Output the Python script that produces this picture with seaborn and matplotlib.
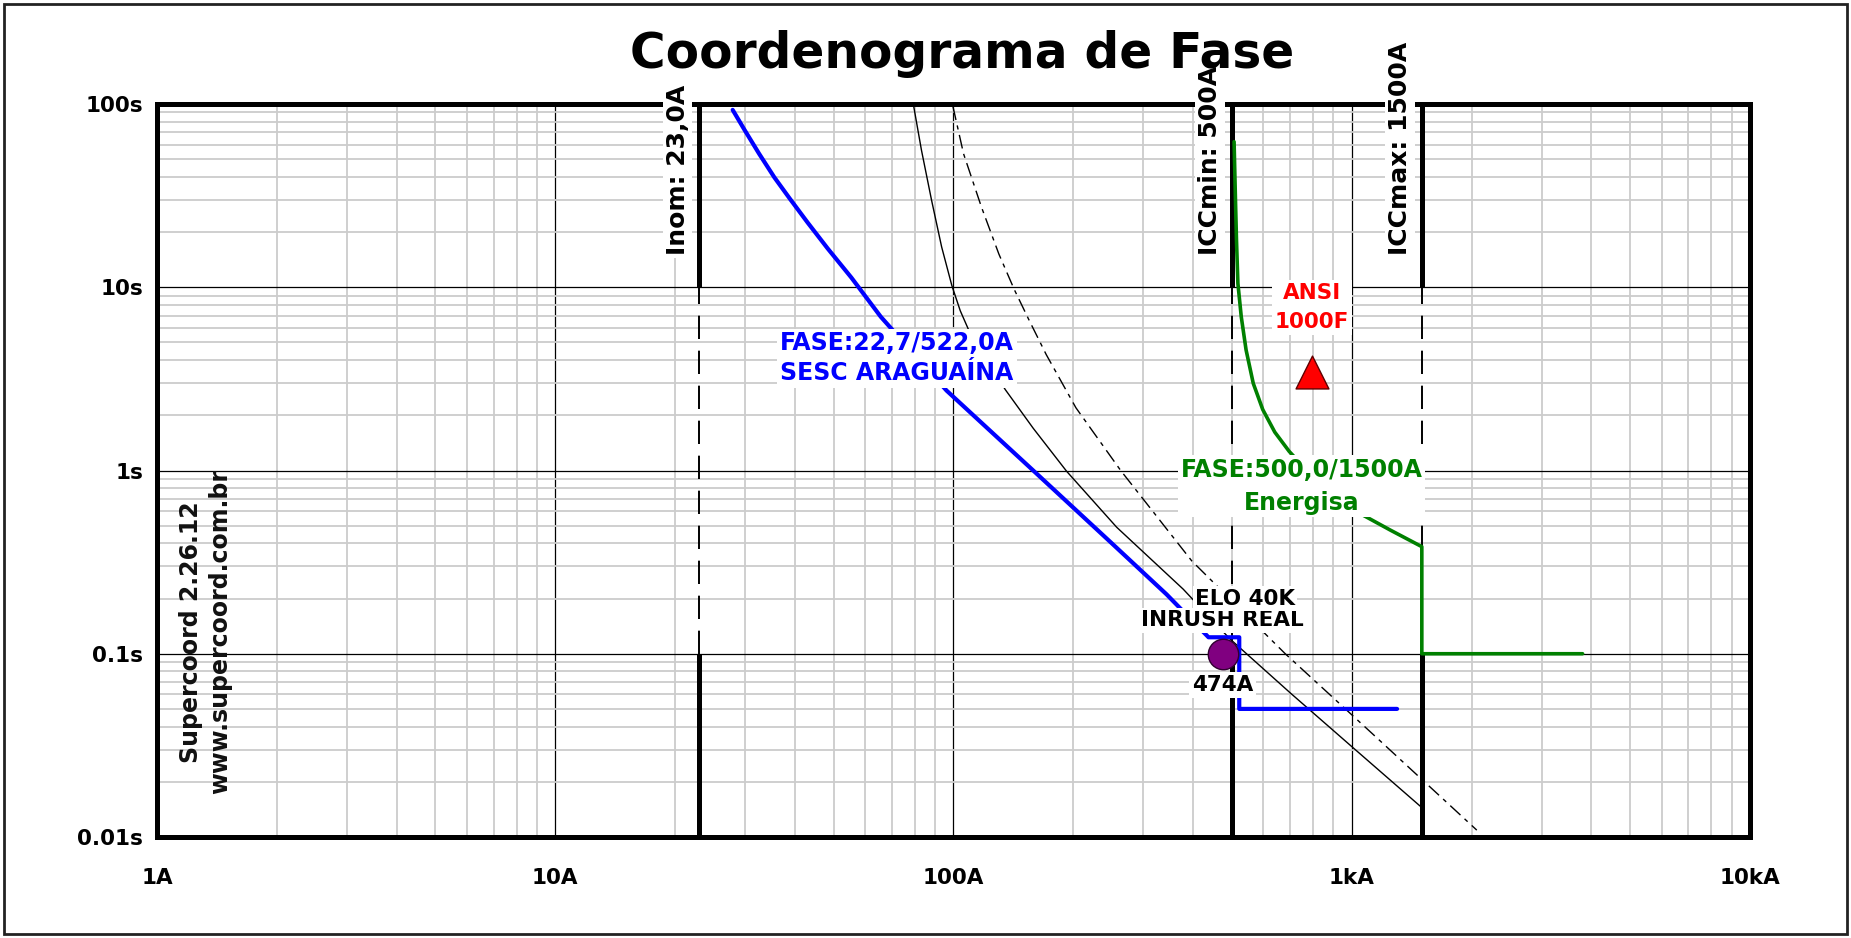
import pandas as pd
import matplotlib
matplotlib.use('Agg')
import matplotlib.pyplot as plt
import seaborn as sns
from matplotlib.ticker import FixedLocator, LogLocator, NullFormatter
from matplotlib.patches import Rectangle

# curva de fase SESC (azul)
sesc_i = [27.9, 29.9, 32.5, 35.5, 38.8, 43.0, 48.3, 55.4, 65.7, 96.1, 158.6, 250, 342.8, 437, 522, 522, 1300]
sesc_t = [92.9, 72.1, 53.6, 39.8, 30.5, 22.6, 16.3, 11.3, 6.9, 2.73, 1.0, 0.40, 0.211, 0.123, 0.123, 0.05, 0.05]

# elo 40K - curva continua e traco-ponto
elo_i = [79.5, 83.1, 88.1, 93.4, 99.1, 104, 109, 114.3, 135, 158.6, 192.4, 257, 377.6, 493.6, 703, 1001, 1493]
elo_t = [96.7, 56.1, 29.9, 16.6, 10.2, 7.45, 5.9, 4.88, 2.76, 1.70, 0.99, 0.49, 0.225, 0.121, 0.0608, 0.0311, 0.0146]
elo2_i = [99.7, 106, 117.5, 130, 142.2, 154.4, 171, 203, 263, 396.7, 681, 1121, 2061]
elo2_t = [97, 53.6, 27.5, 15.2, 9.7, 6.7, 4.29, 2.2, 1.0, 0.321, 0.1, 0.037, 0.0109]

# Energisa (verde)
ener_i = [506.6, 510.7, 513.7, 517.9, 528.1, 543, 566, 598, 641, 697, 850, 1047, 1250, 1500, 1500, 3800]
ener_t = [62.3, 29.9, 18.1, 10.5, 6.9, 4.55, 2.99, 2.15, 1.62, 1.27, 0.8, 0.584, 0.473, 0.384, 0.1, 0.1]

# pontos
ansi_i, ansi_t = [793], [3.46]
inrush_i, inrush_t = [474], [0.1]

limits_i = [23.0, 500, 1500]
limits_names = ['Inom: 23,0A', 'ICCmin: 500A', 'ICCmax: 1500A']

x_ticks = [1, 10, 100, 1000, 10000]
x_labels = ['1A', '10A', '100A', '1kA', '10kA']
y_ticks = [0.01, 0.1, 1, 10, 100]
y_labels = ['0.01s', '0.1s', '1s', '10s', '100s']

sns.set_style('white')
plt.rcParams['font.family'] = ['DejaVu Sans']
plt.rcParams['text.color'] = 'black'
plt.rcParams['xtick.color'] = 'black'
plt.rcParams['ytick.color'] = 'black'

fig = plt.figure(figsize=(18.51, 9.38), dpi=100)
ax = fig.add_axes([0.0848, 0.1077, 0.8606, 0.7814])
ax.set_xscale('log')
ax.set_yscale('log')
ax.set_xlim(1, 10000)
ax.set_ylim(0.01, 100)

ax.xaxis.set_major_locator(FixedLocator(x_ticks))
ax.set_xticklabels(x_labels, fontsize=15.5, fontweight='bold')
ax.yaxis.set_major_locator(FixedLocator(y_ticks))
ax.set_yticklabels(y_labels, fontsize=15.5, fontweight='bold')
ax.xaxis.set_minor_locator(LogLocator(base=10, subs=range(2, 10), numticks=20))
ax.yaxis.set_minor_locator(LogLocator(base=10, subs=range(2, 10), numticks=20))
ax.xaxis.set_minor_formatter(NullFormatter())
ax.yaxis.set_minor_formatter(NullFormatter())
ax.tick_params(axis='x', which='both', length=0, pad=22)
ax.tick_params(axis='y', which='both', length=0, pad=10)

ax.set_axisbelow(True)
ax.grid(which='minor', color='#cccccc', lw=1.3)
ax.grid(which='major', color='black', lw=0.9)
for sp in ax.spines.values():
    sp.set_linewidth(3.6)
    sp.set_color('black')

# linhas verticais Inom / ICC
for xv in limits_i:
    ax.plot([xv, xv], [10, 100], color='black', lw=3.6, solid_capstyle='butt', zorder=3)
    ax.plot([xv, xv], [0.1, 10], color='black', lw=1.4, ls=(0, (12, 6)), zorder=3)
    ax.plot([xv, xv], [0.01, 0.1], color='black', lw=3.6, solid_capstyle='butt', zorder=3)

for xv, name in zip(limits_i, limits_names):
    ax.annotate(name, xy=(xv, 15.0), xytext=(-7, 0), textcoords='offset points',
                rotation=90, ha='right', va='bottom', fontsize=18, fontweight='bold',
                bbox=dict(facecolor='white', edgecolor='none', pad=2),
                zorder=8, annotation_clip=False)

sns.lineplot(x=elo_i, y=elo_t, ax=ax, color='black', lw=1.0, sort=False, estimator=None, zorder=4)
sns.lineplot(x=elo2_i, y=elo2_t, ax=ax, color='black', lw=1.0, sort=False, estimator=None,
             linestyle=(0, (10, 4, 3, 4)), zorder=4)
sns.lineplot(x=sesc_i, y=sesc_t, ax=ax, color='#0000ff', lw=3.0, sort=False, estimator=None, zorder=5)
sns.lineplot(x=ener_i, y=ener_t, ax=ax, color='#008000', lw=2.6, sort=False, estimator=None, zorder=5)

sns.scatterplot(x=ansi_i, y=ansi_t, ax=ax, marker='^', s=560, color='#ff0000',
                edgecolor='#600000', linewidth=1, zorder=6)
sns.scatterplot(x=inrush_i, y=inrush_t, ax=ax, marker='o', s=480, color='#800080',
                edgecolor='#300030', linewidth=1, zorder=6)

box = dict(facecolor='white', edgecolor='none', pad=2)
ax.text(72.2, 4.1, 'FASE:22,7/522,0A\nSESC ARAGUAÍNA', color='#0000ff', fontsize=17,
        fontweight='bold', ha='center', va='center', linespacing=1.3, bbox=box, zorder=7)
ax.text(748, 0.82, 'FASE:500,0/1500A\nEnergisa', color='#008000', fontsize=17,
        fontweight='bold', ha='center', va='center', linespacing=1.45, bbox=box, zorder=7)
ax.text(793, 7.75, 'ANSI\n1000F', color='#ff0000', fontsize=15.5,
        fontweight='bold', ha='center', va='center', linespacing=1.6, bbox=box, zorder=7)
ax.text(474, 0.152, 'INRUSH REAL', color='black', fontsize=15.5, fontweight='bold',
        ha='center', va='center', bbox=dict(facecolor='white', edgecolor='none', pad=1.5), zorder=7)
ax.text(540, 0.2, 'ELO 40K', color='black', fontsize=15.5, fontweight='bold',
        ha='center', va='center', bbox=dict(facecolor='white', edgecolor='none', pad=1.5), zorder=7)
ax.text(474, 0.0675, '474A', color='black', fontsize=15.5, fontweight='bold',
        ha='center', va='center', bbox=box, zorder=7)

ax.text(0.0304, 0.28, 'Supercoord 2.26.12\nwww.supercoord.com.br', transform=ax.transAxes,
        rotation=90, ha='center', va='center', multialignment='center', fontsize=17,
        fontweight='bold', color='#111111', linespacing=1.3, zorder=7)

fig.text(0.5197, 0.942, 'Coordenograma de Fase', ha='center', va='center',
         fontsize=35, fontweight='bold', color='black')

fig.patches.append(Rectangle((4 / 1851, 4 / 938), 1 - 8 / 1851, 1 - 8 / 938,
                             transform=fig.transFigure, fill=False, edgecolor='#222222', lw=2))

fig.savefig('out.png', dpi=100)
